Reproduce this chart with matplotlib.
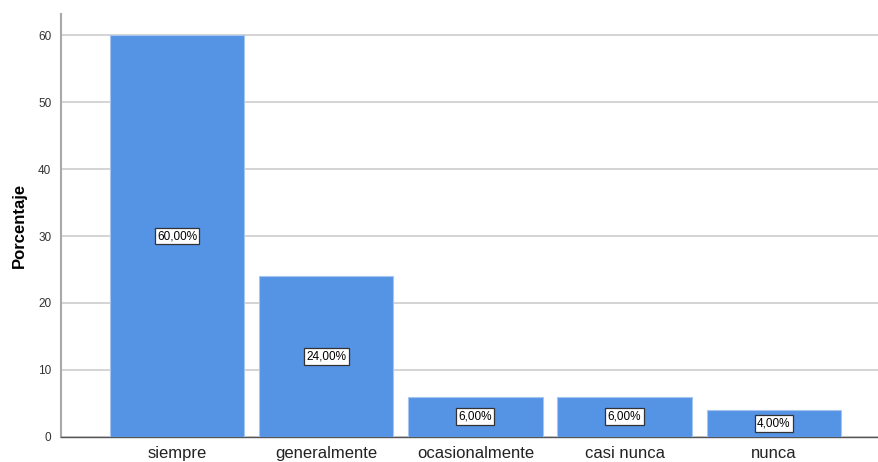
import matplotlib.pyplot as plt

plt.rcParams['font.family'] = ['Liberation Sans', 'DejaVu Sans']

categorias = ["siempre", "generalmente", "ocasionalmente", "casi nunca", "nunca"]
porcentajes = [60.0, 24.0, 6.0, 6.0, 4.0]
yticks = [0, 10, 20, 30, 40, 50, 60]

fig = plt.figure(figsize=(8.79, 4.62), dpi=100)
ax = fig.add_axes([0.0694, 0.0548, 0.9306, 0.915])

x = list(range(len(categorias)))
ax.bar(x, porcentajes, width=0.9, color="#5593e4", edgecolor="#a6c6f0",
       linewidth=0.8, zorder=3)

# etiquetas de porcentaje en el centro de cada barra
for xi, v in zip(x, porcentajes):
    ax.text(xi, v / 2, f"{v:.2f}%".replace(".", ","), ha="center", va="center",
            fontsize=8.5, color="black", zorder=4,
            bbox=dict(boxstyle="square,pad=0.2", fc="white", ec="#333333", lw=0.9))

ax.set_xlim(-0.777, len(categorias) - 1 + 0.705)
ax.set_ylim(0, 63.2)
ax.set_yticks(yticks)
ax.set_xticks(x)
ax.set_xticklabels(categorias, fontsize=12, color="#222222")
ax.tick_params(axis="y", length=0, labelsize=8.5, colors="#333333", pad=7)
ax.tick_params(axis="x", length=0, pad=7)
ax.yaxis.grid(True, color="#d4d4d4", linewidth=1.4, zorder=0)
ax.set_axisbelow(True)

ax.spines["top"].set_visible(False)
ax.spines["right"].set_visible(False)
ax.spines["left"].set_color("#a8a8a8")
ax.spines["left"].set_linewidth(1.5)
ax.spines["bottom"].set_color("#555555")
ax.spines["bottom"].set_linewidth(1.0)

ax.set_ylabel("Porcentaje", fontsize=12, fontweight="bold", labelpad=8)

fig.savefig("out.png", dpi=100)
